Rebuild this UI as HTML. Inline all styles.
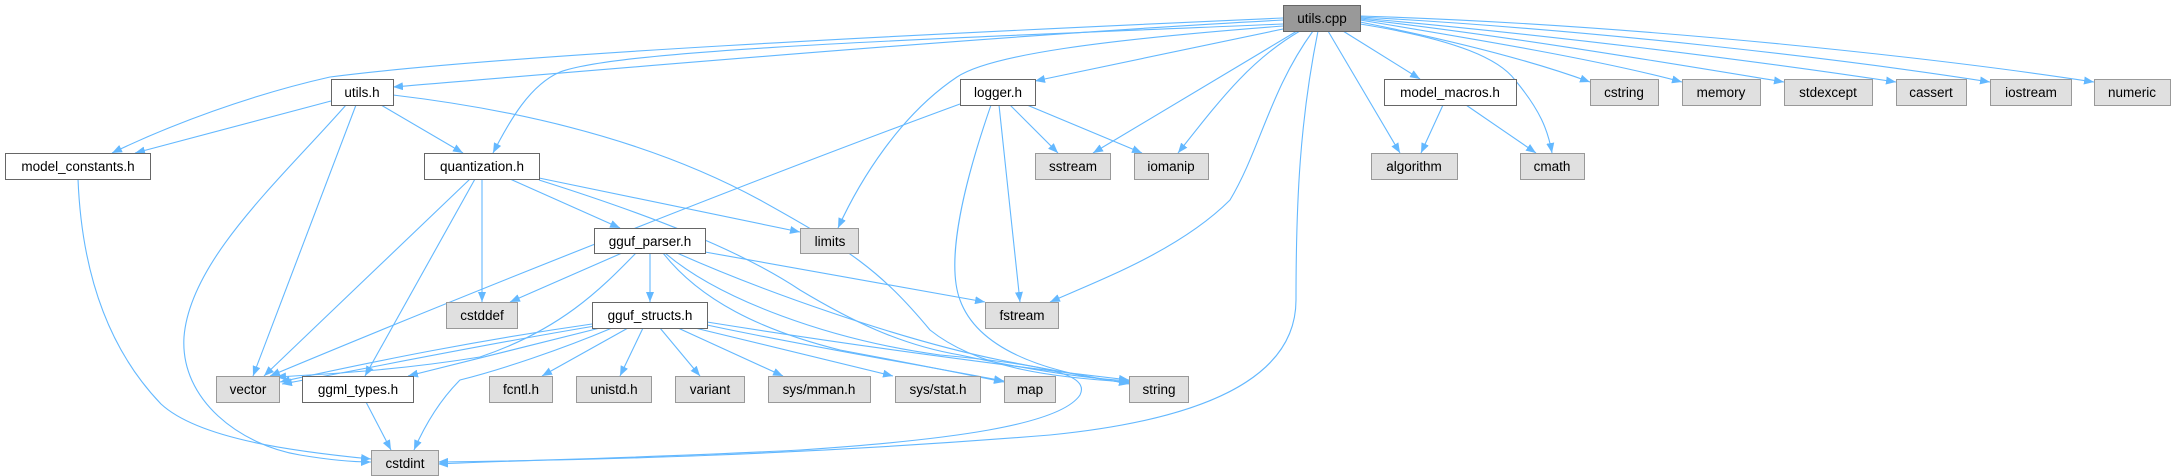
<!DOCTYPE html>
<html><head><meta charset="utf-8"><style>
html,body{margin:0;padding:0;background:#fff;}
svg{display:block;}
text{font-family:"Liberation Sans","DejaVu Sans",sans-serif;font-size:13.5px;fill:#000;text-anchor:middle;}
.e{fill:none;stroke:#63b8ff;stroke-width:1.1;marker-end:url(#a);}
.m{fill:#999;stroke:#666;}
.p{fill:#fff;stroke:#666;}
.s{fill:#e0e0e0;stroke:#999;}
</style></head><body>
<svg width="2171" height="476" viewBox="0 0 2171 476" xmlns="http://www.w3.org/2000/svg">
<defs><marker id="a" markerUnits="userSpaceOnUse" markerWidth="11" markerHeight="8" refX="10" refY="4" orient="auto"><path d="M0,0 L10,4 L0,8 z" fill="#63b8ff"/></marker></defs>
<!-- edges from utils.cpp -->
<path class="e" d="M1283,20 C1000,35 600,70 393,87"/>
<path class="e" d="M1283,18 C900,35 500,55 330,77 C250,95 170,125 112,153"/>
<path class="e" d="M1283,24 C900,40 620,50 560,72 C530,85 510,120 493,153"/>
<path class="e" d="M1283,26 C1100,40 990,55 957,77 C900,115 860,180 838,228"/>
<path class="e" d="M1283,29 L1035,81"/>
<path class="e" d="M1297,31 L1093,153"/>
<path class="e" d="M1300,31 C1250,60 1220,100 1178,153"/>
<path class="e" d="M1313,31 C1270,90 1260,150 1230,200 C1180,250 1100,280 1050,302"/>
<path class="e" d="M1318,31 C1300,120 1296,200 1296,300 C1296,380 1200,420 1050,435 C800,455 600,460 438,462"/>
<path class="e" d="M1328,31 L1400,153"/>
<path class="e" d="M1343,31 L1420,79"/>
<path class="e" d="M1360,24 C1460,40 1500,60 1515,80 C1540,110 1548,130 1552,153"/>
<path class="e" d="M1360,22 C1450,40 1530,60 1590,82"/>
<path class="e" d="M1360,20 C1480,40 1600,60 1682,82"/>
<path class="e" d="M1360,19 C1500,35 1650,60 1784,82"/>
<path class="e" d="M1360,18 C1550,35 1750,60 1896,82"/>
<path class="e" d="M1360,17 C1600,30 1850,60 1990,82"/>
<path class="e" d="M1360,16 C1650,25 1950,60 2094,82"/>
<!-- utils.h -->
<path class="e" d="M331,101 L135,153"/>
<path class="e" d="M381,105 L463,153"/>
<path class="e" d="M356,105 L253,376"/>
<path class="e" d="M346,105 C280,180 190,260 184,337 C180,400 240,445 300,455 C330,460 350,462 371,462"/>
<path class="e" d="M393,95 C520,110 650,140 760,200 C850,250 880,270 930,330 C980,370 1060,378 1129,382"/>
<!-- logger.h -->
<path class="e" d="M960,104 C780,170 500,280 270,376"/>
<path class="e" d="M1010,105 L1058,153"/>
<path class="e" d="M1027,105 L1142,153"/>
<path class="e" d="M999,105 L1020,302"/>
<path class="e" d="M991,105 C965,180 945,260 960,300 C980,355 1060,375 1129,383"/>
<!-- quantization.h -->
<path class="e" d="M470,179 L264,376"/>
<path class="e" d="M475,179 L365,376"/>
<path class="e" d="M482,179 L482,302"/>
<path class="e" d="M510,179 L620,228"/>
<path class="e" d="M539,178 L800,232"/>
<path class="e" d="M539,180 C650,215 740,250 800,290 C850,320 900,345 960,355 C1020,368 1080,378 1129,381"/>
<!-- gguf_parser.h -->
<path class="e" d="M622,253 L510,302"/>
<path class="e" d="M636,253 C600,290 560,330 480,357 C400,370 330,374 276,377"/>
<path class="e" d="M650,253 L650,302"/>
<path class="e" d="M705,252 L985,302"/>
<path class="e" d="M663,253 C700,300 760,330 840,350 C920,365 970,375 1004,382"/>
<path class="e" d="M677,253 C760,290 900,340 1000,360 C1060,372 1100,378 1129,384"/>
<path class="e" d="M665,253 C720,300 830,340 940,355 C1050,365 1090,375 1080,395 C1060,425 950,440 800,450 C650,458 520,460 438,464"/>
<!-- gguf_structs.h -->
<path class="e" d="M592,324 C480,340 380,360 280,382"/>
<path class="e" d="M595,326 C480,345 360,370 282,384"/>
<path class="e" d="M600,328 L408,376"/>
<path class="e" d="M612,328 C560,350 500,370 460,380 C440,400 425,425 414,450"/>
<path class="e" d="M628,328 L542,376"/>
<path class="e" d="M643,328 L620,376"/>
<path class="e" d="M660,328 L700,376"/>
<path class="e" d="M678,328 L783,376"/>
<path class="e" d="M695,328 L893,376"/>
<path class="e" d="M707,325 C800,345 920,365 1004,381"/>
<path class="e" d="M707,322 C850,345 1000,365 1129,380"/>
<!-- others -->
<path class="e" d="M366,402 L391,450"/>
<path class="e" d="M78,179 C80,230 90,330 161,404 C200,440 300,452 371,459"/>
<path class="e" d="M1443,105 L1421,153"/>
<path class="e" d="M1466,105 L1536,153"/>
<!-- nodes -->
<rect class="m" x="1283.5" y="5.5" width="77" height="26"/><text x="1322" y="23">utils.cpp</text>
<rect class="p" x="331.5" y="79.5" width="62" height="26"/><text x="362" y="97">utils.h</text>
<rect class="p" x="960.5" y="79.5" width="75" height="26"/><text x="998" y="97">logger.h</text>
<rect class="p" x="1384.5" y="79.5" width="132" height="26"/><text x="1450" y="97">model_macros.h</text>
<rect class="s" x="1590.5" y="79.5" width="68" height="26"/><text x="1624" y="97">cstring</text>
<rect class="s" x="1682.5" y="79.5" width="78" height="26"/><text x="1721" y="97">memory</text>
<rect class="s" x="1784.5" y="79.5" width="88" height="26"/><text x="1828" y="97">stdexcept</text>
<rect class="s" x="1896.5" y="79.5" width="70" height="26"/><text x="1931" y="97">cassert</text>
<rect class="s" x="1990.5" y="79.5" width="81" height="26"/><text x="2031" y="97">iostream</text>
<rect class="s" x="2094.5" y="79.5" width="76" height="26"/><text x="2132" y="97">numeric</text>
<rect class="p" x="5.5" y="153.5" width="145" height="26"/><text x="78" y="171">model_constants.h</text>
<rect class="p" x="424.5" y="153.5" width="115" height="26"/><text x="482" y="171">quantization.h</text>
<rect class="s" x="1035.5" y="153.5" width="75" height="26"/><text x="1073" y="171">sstream</text>
<rect class="s" x="1134.5" y="153.5" width="74" height="26"/><text x="1171" y="171">iomanip</text>
<rect class="s" x="1371.5" y="153.5" width="86" height="26"/><text x="1414" y="171">algorithm</text>
<rect class="s" x="1520.5" y="153.5" width="64" height="26"/><text x="1552" y="171">cmath</text>
<rect class="p" x="594.5" y="228.5" width="111" height="25"/><text x="650" y="246">gguf_parser.h</text>
<rect class="s" x="800.5" y="228.5" width="58" height="25"/><text x="830" y="246">limits</text>
<rect class="s" x="446.5" y="302.5" width="71" height="26"/><text x="482" y="320">cstddef</text>
<rect class="p" x="592.5" y="302.5" width="115" height="26"/><text x="650" y="320">gguf_structs.h</text>
<rect class="s" x="985.5" y="302.5" width="73" height="26"/><text x="1022" y="320">fstream</text>
<rect class="s" x="216.5" y="376.5" width="63" height="26"/><text x="248" y="394">vector</text>
<rect class="p" x="302.5" y="376.5" width="111" height="26"/><text x="358" y="394">ggml_types.h</text>
<rect class="s" x="489.5" y="376.5" width="63" height="26"/><text x="521" y="394">fcntl.h</text>
<rect class="s" x="576.5" y="376.5" width="75" height="26"/><text x="614" y="394">unistd.h</text>
<rect class="s" x="675.5" y="376.5" width="69" height="26"/><text x="710" y="394">variant</text>
<rect class="s" x="768.5" y="376.5" width="102" height="26"/><text x="819" y="394">sys/mman.h</text>
<rect class="s" x="895.5" y="376.5" width="85" height="26"/><text x="938" y="394">sys/stat.h</text>
<rect class="s" x="1004.5" y="376.5" width="51" height="26"/><text x="1030" y="394">map</text>
<rect class="s" x="1129.5" y="376.5" width="59" height="26"/><text x="1159" y="394">string</text>
<rect class="s" x="371.5" y="450.5" width="67" height="25"/><text x="405" y="468">cstdint</text>
</svg>
</body></html>
